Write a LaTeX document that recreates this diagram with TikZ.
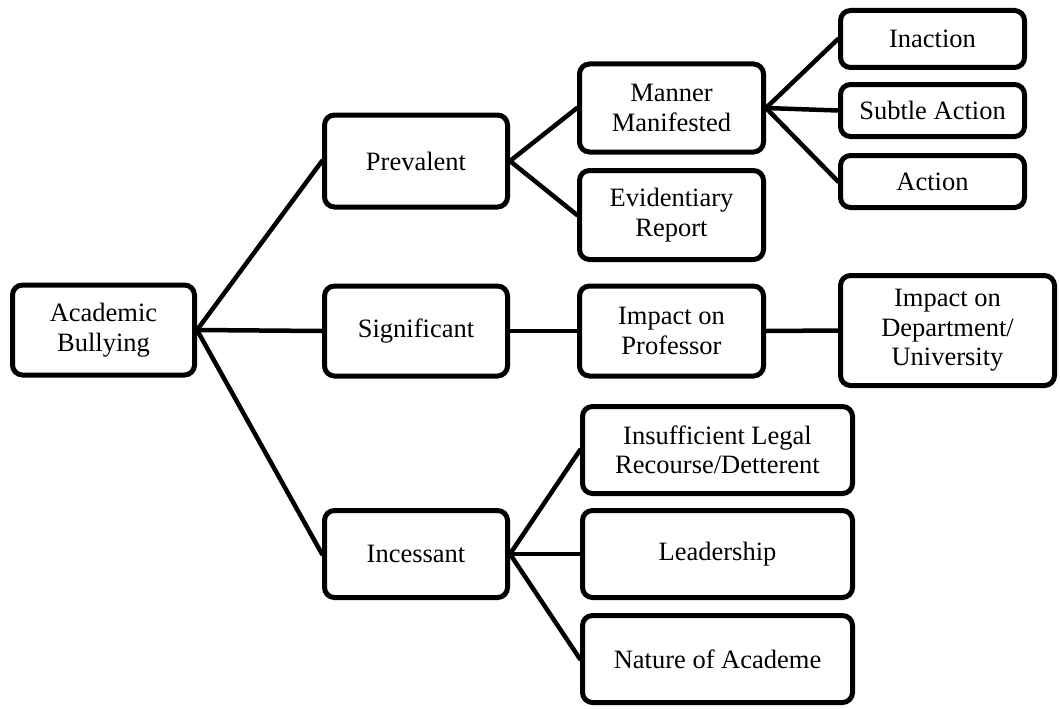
\documentclass[tikz,border=0pt]{standalone}
\usepackage{fontspec}
\setmainfont{Liberation Serif}
\begin{document}
\begin{tikzpicture}[x=1pt,y=-1pt,
  box/.style={draw=black, line width=5pt, rounded corners=10pt, fill=white,
    align=center, inner sep=2pt, font=\fontsize{26.5}{29.5}\selectfont},
  link/.style={line width=4.5pt, line cap=round}]
\useasboundingbox (0,0) rectangle (1060,709);
\node[box, minimum width=182, minimum height=90] (ab) at (103.5,330) {Academic\\Bullying};
\node[box, minimum width=183, minimum height=92] (prev) at (416,161) {Prevalent};
\node[box, minimum width=183, minimum height=90] (sig) at (416,331) {Significant};
\node[box, minimum width=183, minimum height=87] (inc) at (416,554) {Incessant};
\node[box, minimum width=184, minimum height=88] (mm) at (671.5,108) {Manner\\Manifested};
\node[box, minimum width=184, minimum height=89] (ev) at (671.5,215) {Evidentiary\\Report};
\node[box, minimum width=184, minimum height=90] (ip) at (671.5,331) {Impact on\\Professor};
\node[box, minimum width=184, minimum height=57] (ina) at (932.5,39) {Inaction};
\node[box, minimum width=184, minimum height=52] (sub) at (932.5,110.5) {Subtle Action};
\node[box, minimum width=184, minimum height=52] (act) at (932.5,181.5) {Action};
\node[box, minimum width=214, minimum height=110] (idu) at (947.5,330.5) {Impact on\\Department/\\University};
\node[box, minimum width=270, minimum height=87] (ins) at (717.5,450) {Insufficient Legal\\Recourse/Detterent};
\node[box, minimum width=270, minimum height=87] (lead) at (717.5,554) {Leadership};
\node[box, minimum width=270, minimum height=87] (nat) at (717.5,659) {Nature of Academe};
\draw[link] (ab.east) -- (prev.west);
\draw[link] (ab.east) -- (sig.west);
\draw[link] (ab.east) -- (inc.west);
\draw[link] (prev.east) -- (mm.west);
\draw[link] (prev.east) -- (ev.west);
\draw[link] (mm.east) -- (ina.west);
\draw[link] (mm.east) -- (sub.west);
\draw[link] (mm.east) -- (act.west);
\draw[link] (sig.east) -- (ip.west);
\draw[link] (ip.east) -- (idu.west);
\draw[link] (inc.east) -- (ins.west);
\draw[link] (inc.east) -- (lead.west);
\draw[link] (inc.east) -- (nat.west);
\end{tikzpicture}
\end{document}
